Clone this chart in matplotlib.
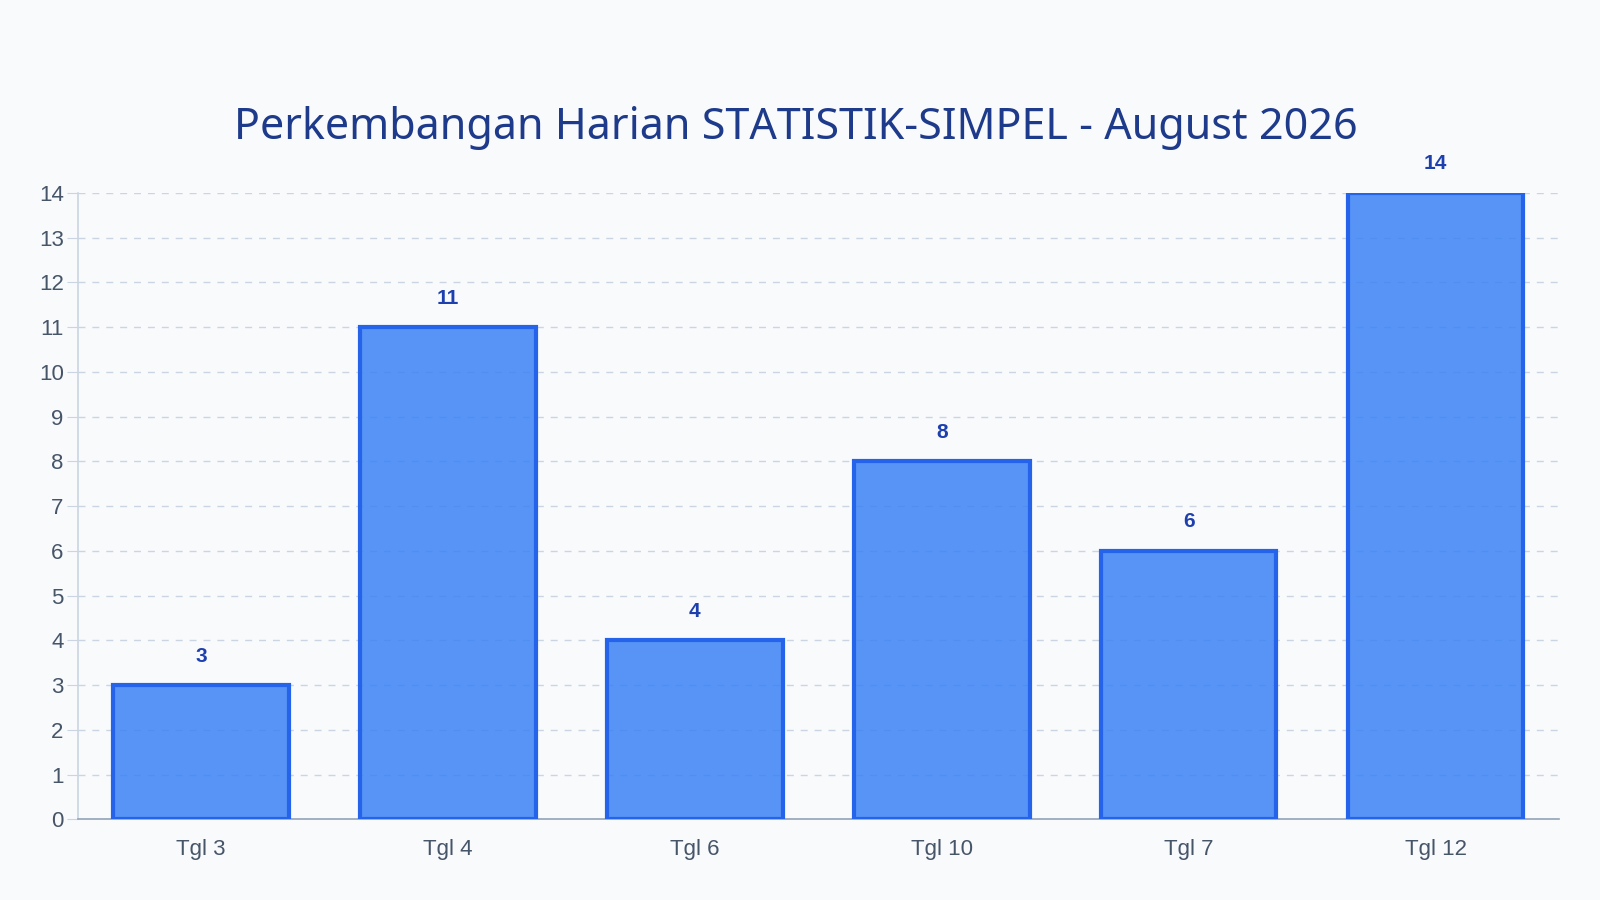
import matplotlib
matplotlib.use("Agg")
import matplotlib.pyplot as plt

categories = ["Tgl 3", "Tgl 4", "Tgl 6", "Tgl 10", "Tgl 7", "Tgl 12"]
values = [3, 11, 4, 8, 6, 14]
yticks = list(range(0, 15))

fig = plt.figure(figsize=(16, 9), dpi=100, facecolor="#f8fafc")
ax = fig.add_axes([0.0485, 0.0896, 0.926, 0.6961], facecolor="#f8fafc")
x = range(len(categories))
ax.bar(x, values, width=0.71, color="#3b82f6", alpha=0.85, edgecolor="none", zorder=2)
ax.bar(x, values, width=0.71, fill=False, edgecolor="#2563eb", linewidth=3, zorder=3)
for i, v in zip(x, values):
    ax.annotate(str(v), (i, v), xytext=(0, 14), textcoords="offset points", ha="center", va="bottom",
                fontsize=15, fontweight="bold", color="#1e40af", family="Liberation Sans")
ax.set_xlim(-0.5, len(categories) - 0.5)
ax.set_ylim(0, 14)
ax.set_yticks(yticks)
ax.set_xticks(list(x))
ax.set_xticklabels(categories)
ax.yaxis.grid(True, linestyle=(0, (5, 5)), color="#cbd5e1", linewidth=1, zorder=0)
for lbl in ax.get_xticklabels() + ax.get_yticklabels():
    lbl.set_family("Liberation Sans"); lbl.set_color("#475569"); lbl.set_fontsize(16)
ax.tick_params(axis="x", length=0, pad=14)
ax.tick_params(axis="y", length=8, color="#cbd5e1", pad=2)
for s in ["top", "right"]:
    ax.spines[s].set_visible(False)
ax.spines["left"].set_color("#cbd5e1")
ax.spines["bottom"].set_color("#94a3b8")
ax.spines["left"].set_linewidth(1.2)
ax.spines["bottom"].set_linewidth(1.2)
fig.text(0.4975, 0.858, "Perkembangan Harian STATISTIK-SIMPEL - August 2026", ha="center", va="center",
         fontsize=31, fontweight="bold", color="#1e3a8a", family="Noto Sans")
fig.savefig("out.png", dpi=100, facecolor="#f8fafc")
